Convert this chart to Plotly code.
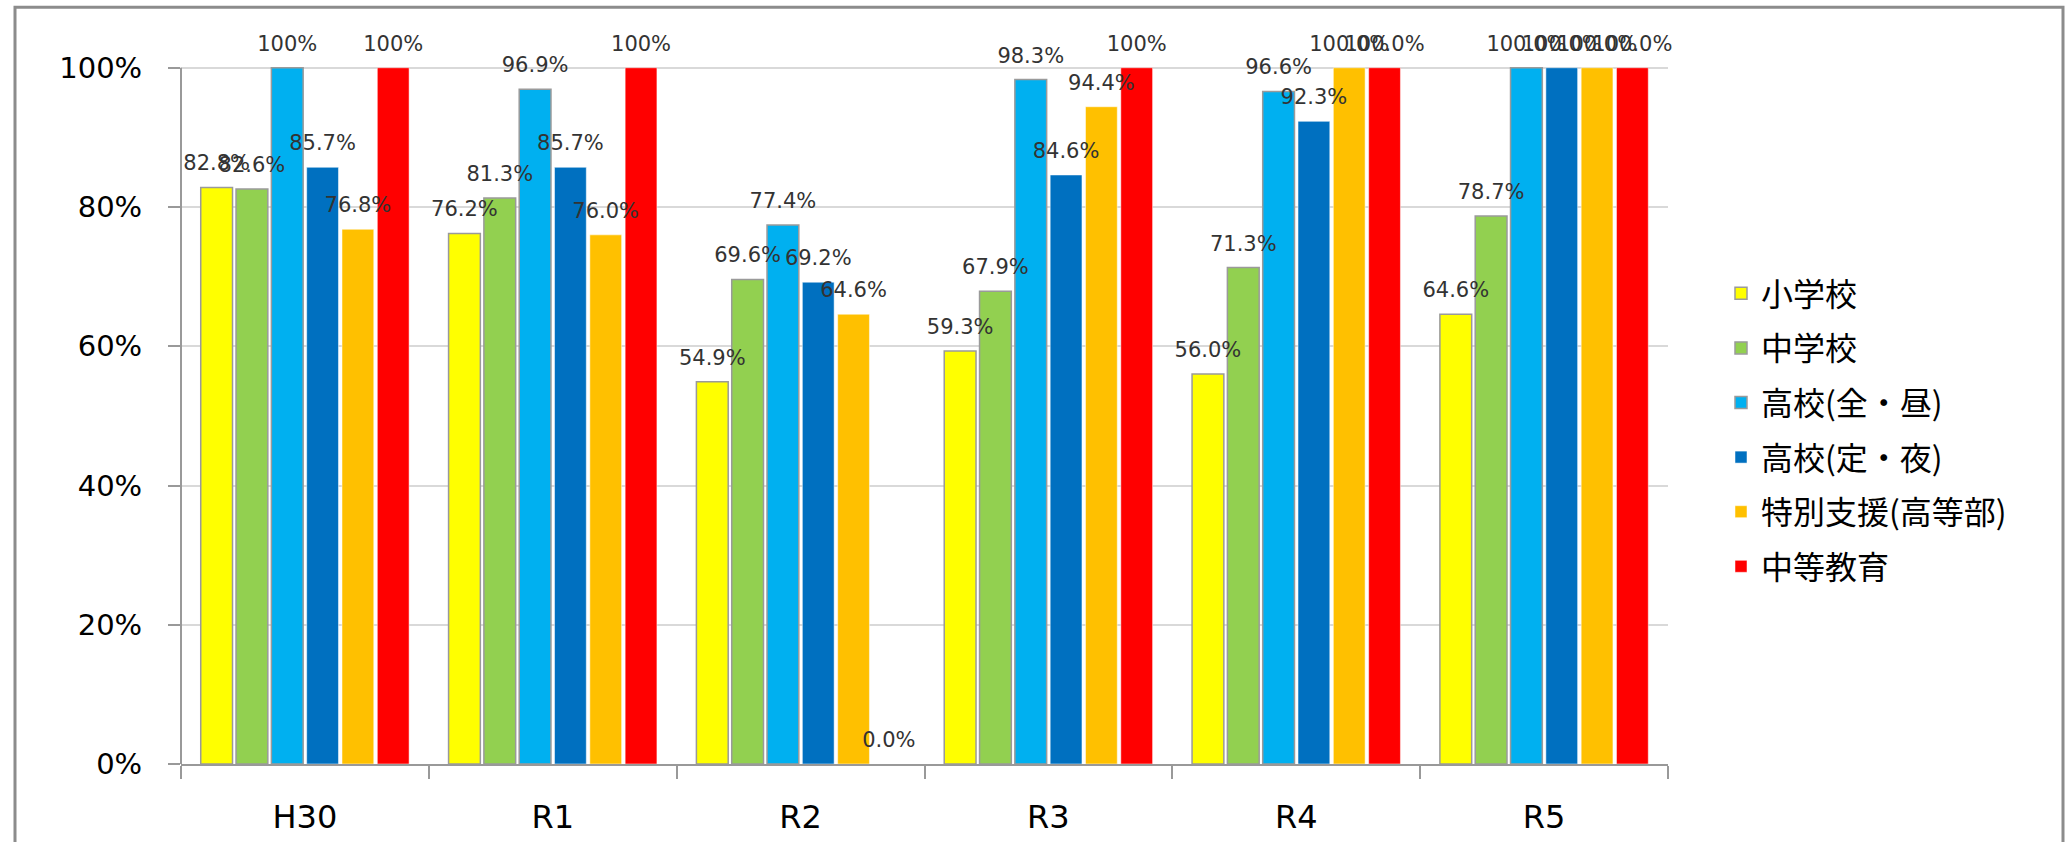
import plotly.graph_objects as go

# ---------------- data ----------------
years = ["H30", "R1", "R2", "R3", "R4", "R5"]
series_names = ["小学校", "中学校", "高校(全・昼)", "高校(定・夜)", "特別支援(高等部)", "中等教育"]
shogakko = [82.8, 76.2, 54.9, 59.3, 56.0, 64.6]
chugakko = [82.6, 81.3, 69.6, 67.9, 71.3, 78.7]
koko_zen = [100, 96.9, 77.4, 98.3, 96.6, 100]
koko_tei = [85.7, 85.7, 69.2, 84.6, 92.3, 100]
tokubetsu = [76.8, 76.0, 64.6, 94.4, 100, 100]
chuto = [100, 100, 0.0, 100, 100, 100]
y_ticks = [0, 20, 40, 60, 80, 100]
y_tick_text = ["0%", "20%", "40%", "60%", "80%", "100%"]
whole_percent_years = ["H30", "R1", "R3"]  # years whose 100% labels have no decimal

series_values = [shogakko, chugakko, koko_zen, koko_tei, tokubetsu, chuto]

# ---------------- style ----------------
colors = ["#FFFF00", "#92D050", "#00B0F0", "#0070C0", "#FFC000", "#FF0000"]
edge_colors = ["#9a9a9a", "#9a9a9a", "#9a9a9a", "#ffffff", "#ffffff", "#ffffff"]
edge_widths = [1.5, 1.5, 1.5, 0.5, 0.5, 0.5]
label_pad = 1.3   # lift of the value labels above the bar tops (axis units)
y_top = 101.4     # small headroom so labels of 100% bars stay in range
axis_grey = "#999999"

W, H = 2071, 842
L, R, B = 181, 1668, 764
T100 = 67.5  # pixel row of the 100% gridline
T = B - (B - T100) * y_top / 100.0


def fmt(v, yr):
    if v == 100 and yr in whole_percent_years:
        return "100%"
    return f"{v:.1f}%"


fig = go.Figure()
for i, (name, vals) in enumerate(zip(series_names, series_values)):
    fig.add_trace(go.Bar(
        x=years, y=vals, name=name, offsetgroup=str(i), legendgroup=str(i),
        marker=dict(color=colors[i], line=dict(color=edge_colors[i], width=edge_widths[i])),
        hoverinfo="skip",
    ))

for i, vals in enumerate(series_values):
    fig.add_trace(go.Bar(
        x=years, y=[v + label_pad for v in vals], offsetgroup=str(i), legendgroup=str(i),
        showlegend=False, hoverinfo="skip",
        marker=dict(color="rgba(0,0,0,0)", line=dict(width=0)),
        text=[fmt(v, yr) for v, yr in zip(vals, years)],
        textposition="outside", textangle=0, constraintext="none", cliponaxis=False,
        textfont=dict(family="DejaVu Sans", size=21, color="#333333"),
    ))


def px_x(p):
    return (p - L) / (R - L)


def px_y(p):
    return (B - p) / (B - T)


# outer chart frame
fig.add_shape(type="rect", xref="paper", yref="paper",
              x0=px_x(15), x1=px_x(2063), y0=px_y(900), y1=px_y(7),
              line=dict(color="#8c8c8c", width=3), fillcolor="rgba(0,0,0,0)", layer="below")
# value axis line, from 0% to 100% only
fig.add_shape(type="line", xref="paper", yref="y",
              x0=0, x1=0, y0=0, y1=y_ticks[-1],
              line=dict(color=axis_grey, width=2), layer="above")

fig.update_layout(
    width=W, height=H,
    margin=dict(l=L, r=W - R, t=T, b=H - B, pad=0, autoexpand=False),
    paper_bgcolor="white", plot_bgcolor="white",
    barmode="group", bargap=0.145, bargroupgap=0.1,
    showlegend=True,
    legend=dict(
        xref="container", yref="container",
        x=1721 / W, xanchor="left", y=1 - 430 / H, yanchor="middle",
        font=dict(family="Noto Sans CJK JP", size=32, color="#000000"),
        traceorder="grouped", tracegroupgap=10,
        bgcolor="rgba(0,0,0,0)",
    ),
    xaxis=dict(
        type="category", showline=True, linecolor=axis_grey, linewidth=2,
        ticks="outside", tickson="boundaries", ticklen=13, tickwidth=2, tickcolor=axis_grey,
        tickfont=dict(family="DejaVu Sans", size=32, color="#000000"),
        ticklabelstandoff=24, showgrid=False, automargin=False,
    ),
    yaxis=dict(
        range=[0, y_top], tickvals=y_ticks, ticktext=y_tick_text,
        showline=False, automargin=False,
        ticks="outside", ticklen=12, tickwidth=2, tickcolor=axis_grey,
        tickfont=dict(family="DejaVu Sans", size=29, color="#000000"),
        ticklabelstandoff=20,
        showgrid=True, gridcolor="#d9d9d9", gridwidth=2, zeroline=False,
    ),
)

fig.write_html("out.html")
